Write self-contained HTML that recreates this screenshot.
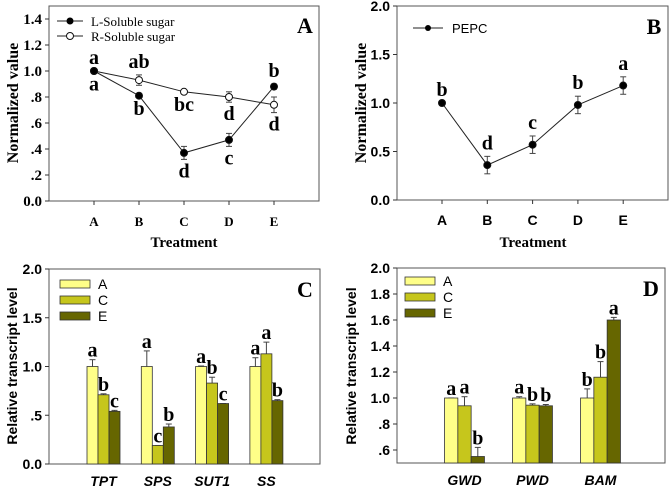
<!DOCTYPE html>
<html><head><meta charset="utf-8"><style>
html,body{margin:0;padding:0;background:#fff;width:669px;height:487px;overflow:hidden}
svg text{font-family:"Liberation Sans",sans-serif}
.t{font-family:"Liberation Serif",serif!important;font-weight:bold}
</style></head><body>
<svg id="fig" width="669" height="487" xmlns="http://www.w3.org/2000/svg"></svg>
<script>
const treatments=["A","B","C","D","E"];
const lSugar=[1.0,0.81,0.37,0.47,0.88];
const lSugarErr=[0,0.01,0.05,0.05,0.02];
const lSugarLetters=["a","b","d","c","b"];
const rSugar=[1.0,0.93,0.84,0.80,0.74];
const rSugarErr=[0.01,0.04,0.01,0.04,0.06];
const rSugarLetters=["a","ab","bc","d","d"];
const pepc=[1.0,0.36,0.57,0.98,1.18];
const pepcErr=[0,0.09,0.09,0.09,0.09];
const pepcLetters=["b","d","c","b","a"];
const genesC=["TPT","SPS","SUT1","SS"];
const cA=[1,1,1,1], cAErr=[0.07,0.16,0.005,0.09], cALet=["a","a","a","a"];
const cC=[0.71,0.19,0.83,1.13], cCErr=[0.01,0.0,0.06,0.12], cCLet=["b","c","b","a"];
const cE=[0.54,0.38,0.62,0.65], cEErr=[0.01,0.03,0.0,0.01], cELet=["c","b","c","b"];
const genesD=["GWD","PWD","BAM"];
const dA=[1,1,1], dAErr=[0,0.01,0.07], dALet=["a","a","b"];
const dC=[0.94,0.945,1.16], dCErr=[0.07,0.01,0.12], dCLet=["a","b","b"];
const dE=[0.55,0.94,1.6], dEErr=[0.07,0.01,0.02], dELet=["b","b","a"];
const ticksA=["0.0",".2",".4",".6",".8","1.0","1.2","1.4"];
const ticksB=["0.0","0.5","1.0","1.5","2.0"];
const ticksC=["0.0",".5","1.0","1.5","2.0"];
const ticksD=[".6",".8","1.0","1.2","1.4","1.6","1.8","2.0"];

const svg=document.getElementById('fig');const NS="http://www.w3.org/2000/svg";
function el(tag,attrs,parent,txt){const e=document.createElementNS(NS,tag);for(const k in attrs)e.setAttribute(k,attrs[k]);if(txt!==undefined)e.textContent=txt;(parent||svg).appendChild(e);return e;}
function panel(name,x0,x1,yTop,yBot,vmin,vmax){
  const g=el('g',{});
  
  
  const r=el('rect',{x:x0,y:yTop,width:x1-x0,height:yBot-yTop,fill:'none',stroke:'#555','stroke-width':1},g);
  
  
  return {g,y:v=>yBot-(v-vmin)/(vmax-vmin)*(yBot-yTop),x0,x1,yTop,yBot};
}
function yTicks(p,labels,vals,cls,fs){
  labels.forEach((l,i)=>{const y=p.y(vals[i]);
    el('line',{x1:p.x0-4,x2:p.x0,y1:y,y2:y,stroke:'#333'},p.g);
    const t=el('text',{x:p.x0-7,y:y+5,'text-anchor':'end','font-size':fs,'font-weight':'bold',class:cls},p.g,l);
    
    });
}
function txt(p,x,y,s,fs,cls,extra,name){const t=el('text',Object.assign({x:x,y:y,'text-anchor':'middle','font-size':fs,class:cls||''},extra||{}),p.g,s);
  
  return t;}
function errBar(p,x,v,e,down){const y1=p.y(v+e),y2=p.y(v-e);
  el('line',{x1:x,x2:x,y1:y1,y2:down?y2:p.y(v),stroke:'#444'},p.g);
  el('line',{x1:x-3,x2:x+3,y1:y1,y2:y1,stroke:'#444'},p.g);
  if(down)el('line',{x1:x-3,x2:x+3,y1:y2,y2:y2,stroke:'#444'},p.g);}

// Panel A
const pA=panel('panel-a-chart',49,319,6,201,0,1.5);
yTicks(pA,ticksA,[0,0.2,0.4,0.6,0.8,1.0,1.2,1.4],'t',15);
const xA=i=>94+i*45;
treatments.forEach((t,i)=>{el('line',{x1:xA(i),x2:xA(i),y1:201,y2:205,stroke:'#333'},pA.g);txt(pA,xA(i),226,t,13,'t',{},'x-tick-label');});
txt(pA,184,247,'Treatment',15,'t',{},'x-axis-title');
txt(pA,0,0,'Normalized value',16,'t',{transform:'translate(18,103) rotate(-90)'},'y-axis-title');
function series(p,xs,vals,errs,fill,name){
  el('polyline',{points:vals.map((v,i)=>xs(i)+','+p.y(v)).join(' '),fill:'none',stroke:'#222','stroke-width':1},p.g);
  vals.forEach((v,i)=>{if(errs[i]>0)errBar(p,xs(i),v,errs[i],true);
    const c=el('circle',{cx:xs(i),cy:p.y(v),r:3.5,fill:fill,stroke:'#111'},p.g);
    
    });
}
series(pA,xA,rSugar,rSugarErr,'#fff','r-soluble-sugar');
series(pA,xA,lSugar,lSugarErr,'#000','l-soluble-sugar');
const lPos=[-1,1,1,1,-1], rPos=[1,-1,1,1,1];
lSugar.forEach((v,i)=>{const y=lPos[i]<0?p2(pA,v,lSugarErr[i],-1):p2(pA,v,lSugarErr[i],1);txt(pA,xA(i),y,lSugarLetters[i],20,'t',{},'significance-letter');});
rSugar.forEach((v,i)=>{const y=rPos[i]<0?p2(pA,v,rSugarErr[i],-1):p2(pA,v,rSugarErr[i],1);txt(pA,xA(i),y,rSugarLetters[i],20,'t',{},'significance-letter');});
function p2(p,v,e,dir){return dir<0?p.y(v+e)-7:p.y(v-e)+18;}
el('line',{x1:57,x2:83,y1:21,y2:21,stroke:'#222'},pA.g);el('circle',{cx:70,cy:21,r:3.5,fill:'#000'},pA.g);
txt(pA,91,26,'L-Soluble sugar',13,'',{'text-anchor':'start',style:'font-family:"Liberation Serif",serif'},'legend-entry');
el('line',{x1:57,x2:83,y1:36,y2:36,stroke:'#222'},pA.g);el('circle',{cx:70,cy:36,r:3.5,fill:'#fff',stroke:'#111'},pA.g);
txt(pA,91,41,'R-Soluble sugar',13,'',{'text-anchor':'start',style:'font-family:"Liberation Serif",serif'},'legend-entry');
txt(pA,305,33,'A',22,'t',{},'panel-label');

// Panel B
const pB=panel('panel-b-chart',397,668,6,200,0,2.0);
yTicks(pB,ticksB,[0,0.5,1,1.5,2],'',14);
const xB=i=>442+i*45.3;
treatments.forEach((t,i)=>{el('line',{x1:xB(i),x2:xB(i),y1:200,y2:204,stroke:'#333'},pB.g);txt(pB,xB(i),225,t,14,'',{'font-weight':'bold'},'x-tick-label');});
txt(pB,533,247,'Treatment',15,'t',{},'x-axis-title');
txt(pB,0,0,'Normalized value',16,'t',{transform:'translate(366,103) rotate(-90)'},'y-axis-title');
series(pB,xB,pepc,pepcErr,'#000','pepc');
pepc.forEach((v,i)=>txt(pB,xB(i),pB.y(v+pepcErr[i])-7,pepcLetters[i],20,'t',{},'significance-letter'));
el('line',{x1:413,x2:443,y1:28,y2:28,stroke:'#222'},pB.g);el('circle',{cx:428,cy:28,r:3,fill:'#000'},pB.g);
txt(pB,452,33,'PEPC',13,'',{'text-anchor':'start'},'legend-entry');
txt(pB,654,34,'B',22,'t',{},'panel-label');

// bar panels
const colA='#ffff88',colC='#c6c61c',colE='#666600';
function bars(p,genes,center,bw,sets){
  genes.forEach((gname,gi)=>{sets.forEach((s,si)=>{const x=center(gi)+(si-1.5)*bw;const v=s.v[gi];
    errBar(p,x+bw/2,v,s.e[gi],false);
    const r=el('rect',{x:x,y:p.y(v),width:bw,height:p.yBot-p.y(v),fill:s.c,stroke:'#333','stroke-width':0.8},p.g);
    
    
    txt(p,x+bw/2,p.y(v+s.e[gi])-3,s.l[gi],20,'t',{},'significance-letter');});
    txt(p,center(gi),p.yBot+22,gname,14,'',{'font-weight':'bold','font-style':'italic'},'x-tick-label');});
}
function legend(p,x,y,bw){[['A',colA],['C',colC],['E',colE]].forEach((a,i)=>{
  el('rect',{x:x,y:y+i*16-5,width:bw,height:8,fill:a[1],stroke:'#333','stroke-width':0.8},p.g);
  txt(p,x+bw+8,y+i*16+4,a[0],14,'',{'text-anchor':'start'},'legend-entry');});}

// Panel C
const pC=panel('panel-c-chart',49,320,269,464,0,2.0);
yTicks(pC,ticksC,[0,0.5,1,1.5,2],'',14);
bars(pC,genesC,i=>103.5+i*54.3,11,[{v:cA,e:cAErr,l:cALet,c:colA,n:'a'},{v:cC,e:cCErr,l:cCLet,c:colC,n:'c'},{v:cE,e:cEErr,l:cELet,c:colE,n:'e'}].map((s,k)=>s));
txt(pC,0,0,'Relative transcript level',14,'',{transform:'translate(17,366) rotate(-90)','font-weight':'bold'},'y-axis-title');
legend(pC,60,285,30);
txt(pC,305,297,'C',22,'t',{},'panel-label');

// Panel D
const pD=panel('panel-d-chart',397,665,268,463,0.5,2.0);
yTicks(pD,ticksD,[0.6,0.8,1.0,1.2,1.4,1.6,1.8,2.0],'',14);
bars(pD,genesD,i=>464.5+i*68,13.3,[{v:dA,e:dAErr,l:dALet,c:colA,n:'a'},{v:dC,e:dCErr,l:dCLet,c:colC,n:'c'},{v:dE,e:dEErr,l:dELet,c:colE,n:'e'}]);
txt(pD,0,0,'Relative transcript level',14,'',{transform:'translate(356,366) rotate(-90)','font-weight':'bold'},'y-axis-title');
legend(pD,405,282,30);
txt(pD,651,296,'D',22,'t',{},'panel-label');
</script>
</body></html>
